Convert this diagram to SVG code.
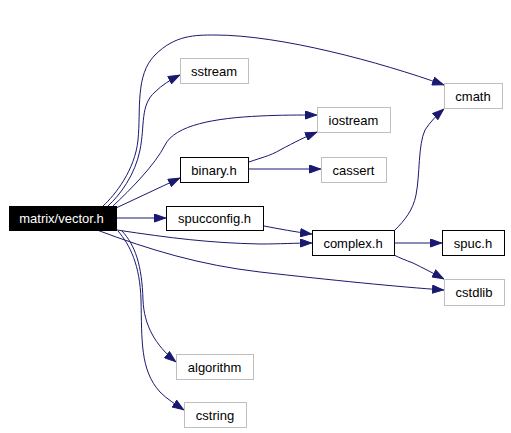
<svg xmlns="http://www.w3.org/2000/svg" width="511" height="433" viewBox="0 0 511 433">
<style>
.n rect{fill:#fff;stroke:#000;stroke-width:1}
.n.ext rect{stroke:#bfbfbf}
.n text{font-family:"Liberation Sans",Arial,sans-serif;font-size:13px;fill:#000;text-anchor:middle}
#n0 rect{fill:#000}
#n0 text{fill:#fff}
.e path{fill:none;stroke:#191970;stroke-width:1;marker-end:url(#ah)}
</style>
<defs>
<marker id="ah" viewBox="0 0 12 9" refX="12" refY="4.5" markerWidth="12" markerHeight="9" markerUnits="userSpaceOnUse" orient="auto">
<path d="M0.5,0.5 L11.5,4.5 L0.5,8.5 z" fill="#191970" stroke="#191970"/>
</marker>
</defs>
<rect width="511" height="433" fill="#fff"/>
<g id="edges" class="e">
<path d="M103,206 C115,195 135,170 138,140 C141,110 135,75 155,55 C175,35 195,35 215,35 C280,35 380,62 444,85"/>
<path d="M108,206 C120,195 135,175 140,150 C145,125 140,105 155,92 C162,85 170,80 180,75"/>
<path d="M113,206 C130,190 155,165 165,145 C175,125 215,118 260,116 C280,115 300,115 317,115"/>
<path d="M116,208 L180,178"/>
<path d="M249,162 C260,158 270,156 280,150 C295,142 305,137 317,132"/>
<path d="M249,169 L321,169"/>
<path d="M117,218 L166,218"/>
<path d="M264,226 C280,229 295,232 312,234"/>
<path d="M117,230 C170,238 210,243 260,244 C280,244 295,243 312,243"/>
<path d="M97,230 C150,250 200,265 260,272 C330,280 400,287 444,290"/>
<path d="M395,230 C405,220 413,210 416,195 C420,175 418,145 425,130 C430,122 437,115 444,109"/>
<path d="M394,243 L442,243"/>
<path d="M394,255 C400,258 405,260 413,263 C423,268 433,273 444,279"/>
<path d="M122,231 C135,245 142,265 143,300 C144,325 155,345 176,362"/>
<path d="M118,231 C130,245 140,265 141,300 C142,340 140,370 160,392 C167,399 175,404 184,410"/>
</g>
<g id="n0" class="n"><rect x="9.5" y="206.5" width="107" height="24"/><text x="61.5" y="223">matrix/vector.h</text></g>
<g id="n1" class="n ext"><rect x="180.5" y="58.5" width="68" height="25"/><text x="214" y="75.5">sstream</text></g>
<g id="n2" class="n ext"><rect x="444.5" y="83.5" width="58" height="25"/><text x="473" y="100.5">cmath</text></g>
<g id="n3" class="n ext"><rect x="317.5" y="107.5" width="73" height="25"/><text x="353.5" y="124.5">iostream</text></g>
<g id="n4" class="n"><rect x="180.5" y="157.5" width="68" height="25"/><text x="214" y="174.5">binary.h</text></g>
<g id="n5" class="n ext"><rect x="321.5" y="157.5" width="65" height="25"/><text x="353.5" y="174.5">cassert</text></g>
<g id="n6" class="n"><rect x="166.5" y="206.5" width="97" height="24"/><text x="214.5" y="223">spucconfig.h</text></g>
<g id="n7" class="n"><rect x="312.5" y="230.5" width="82" height="25"/><text x="353" y="247.5">complex.h</text></g>
<g id="n8" class="n"><rect x="442.5" y="230.5" width="62" height="25"/><text x="473" y="247.5">spuc.h</text></g>
<g id="n9" class="n ext"><rect x="444.5" y="279.5" width="60" height="26"/><text x="474" y="297">cstdlib</text></g>
<g id="n10" class="n ext"><rect x="176.5" y="354.5" width="77" height="25"/><text x="214.5" y="371.5">algorithm</text></g>
<g id="n11" class="n ext"><rect x="184.5" y="402.5" width="62" height="25"/><text x="215" y="419.5">cstring</text></g>
</svg>
